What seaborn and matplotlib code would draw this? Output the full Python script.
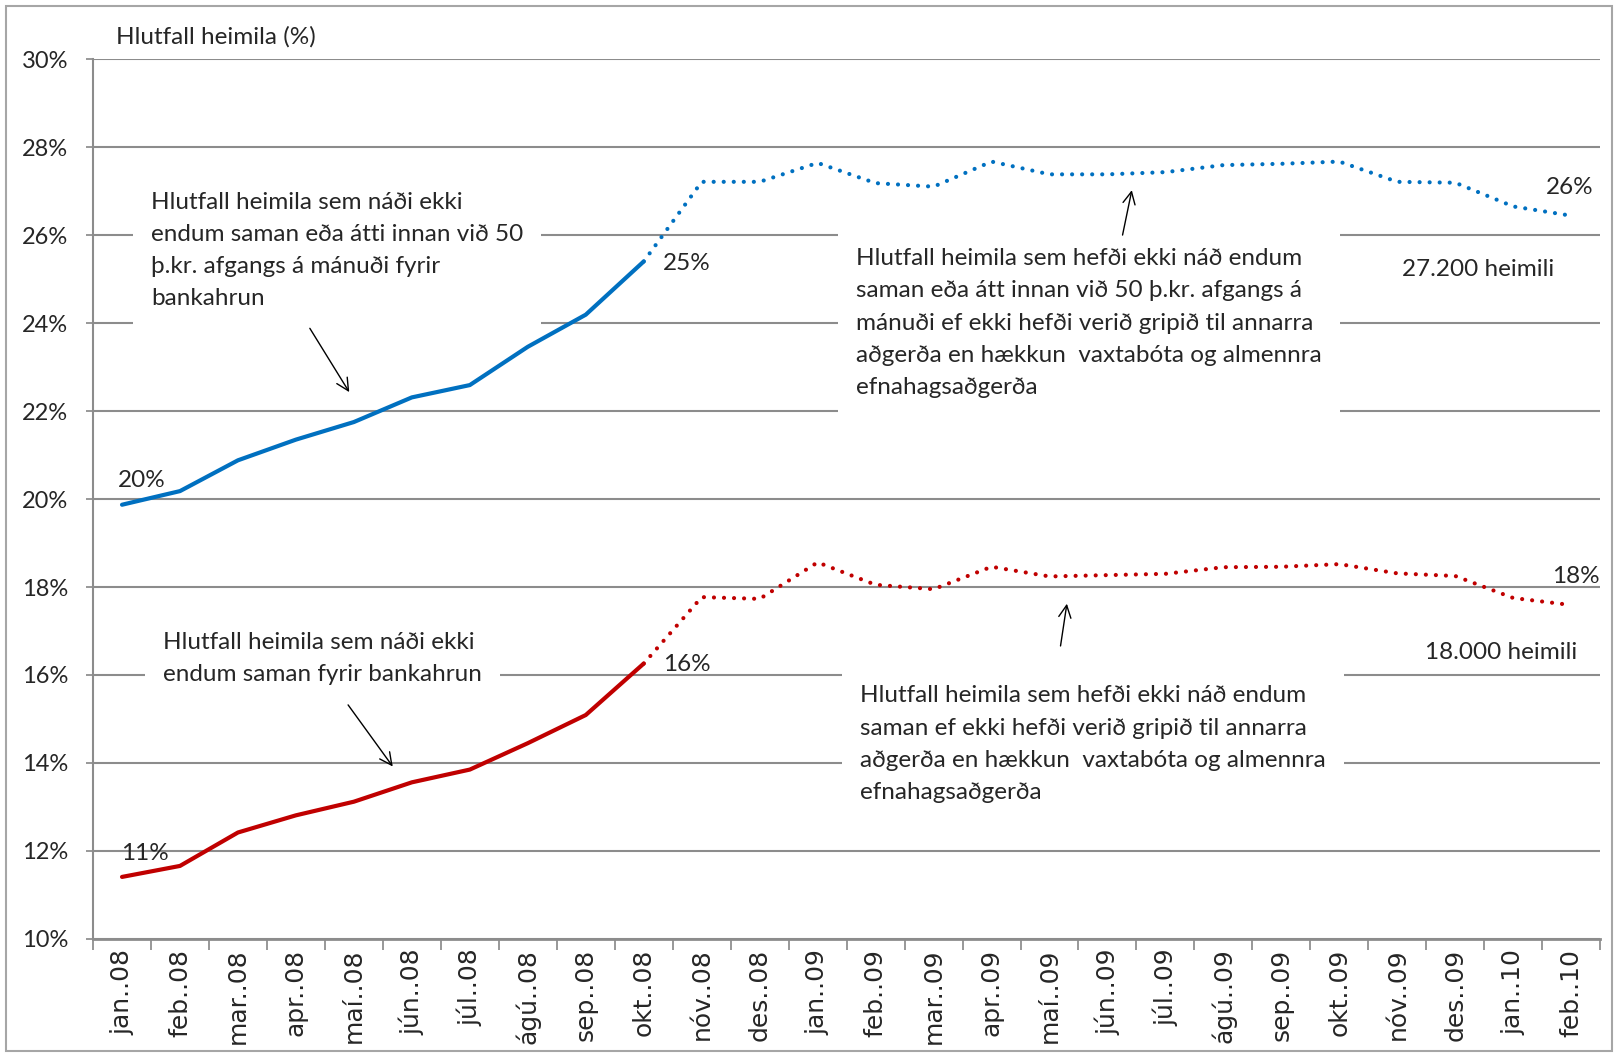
import numpy as np
import pandas as pd
import matplotlib
matplotlib.use('Agg')
import matplotlib.pyplot as plt
from matplotlib.patches import Rectangle
from matplotlib.ticker import FixedLocator, FuncFormatter
import seaborn as sns

# months, Jan 2008 - Feb 2010
months = ['jan..08', 'feb..08', 'mar..08', 'apr..08', 'maí..08', 'jún..08', 'júl..08', 'ágú..08', 'sep..08',
          'okt..08', 'nóv..08', 'des..08', 'jan..09', 'feb..09', 'mar..09', 'apr..09', 'maí..09', 'jún..09',
          'júl..09', 'ágú..09', 'sep..09', 'okt..09', 'nóv..09', 'des..09', 'jan..10', 'feb..10']
# share of households (%) - blue: short or < 50 þ.kr. surplus, red: could not make ends meet
blue = [19.87, 20.18, 20.88, 21.35, 21.75, 22.31, 22.59, 23.46, 24.19, 25.40,
        27.21, 27.21, 27.64, 27.18, 27.10, 27.67, 27.38, 27.38, 27.43, 27.59,
        27.62, 27.67, 27.21, 27.19, 26.65, 26.44]
red = [11.41, 11.66, 12.42, 12.81, 13.12, 13.56, 13.85, 14.45, 15.09, 16.26,
       17.77, 17.73, 18.56, 18.05, 17.95, 18.46, 18.24, 18.27, 18.30, 18.45,
       18.46, 18.52, 18.31, 18.25, 17.75, 17.59]
split = 9  # okt..08 = last actual month, dotted after that
yticks = [10, 12, 14, 16, 18, 20, 22, 24, 26, 28, 30]

sns.set_theme(style='white')
plt.rcParams['font.family'] = ['Lato', 'DejaVu Sans']
FS = 17.5

fig = plt.figure(figsize=(16.18, 10.55), dpi=100)
ax = fig.add_axes([0.0575, 0.110, 0.9315, 0.834])

df = pd.DataFrame({'pos': np.arange(len(months)), 'month': months, 'blue': blue, 'red': red})
solid = df.iloc[:split + 1]
dotted = df.iloc[split:]
for col, color in [('blue', '#0070C0'), ('red', '#C00000')]:
    sns.lineplot(data=solid, x='pos', y=col, color=color, lw=3, ax=ax, zorder=3,
                 solid_joinstyle='round')
    sns.lineplot(data=dotted, x='pos', y=col, color=color, lw=3, ax=ax, zorder=3,
                 linestyle=(0, (0.01, 2.4)), dash_capstyle='round')

ax.set_xlim(-0.5, len(months) - 0.5)
ax.set_ylim(10, 30)
ax.set_xlabel('')
ax.set_ylabel('')
ax.set_yticks(yticks)
ax.yaxis.set_major_formatter(FuncFormatter(lambda v, p: '%d%%' % v))
ax.set_xticks(df.pos)
ax.set_xticklabels(months, rotation=90, fontsize=18, family='DejaVu Sans')
ax.xaxis.set_minor_locator(FixedLocator(np.arange(-0.5, len(months), 1)))
ax.tick_params(axis='x', which='major', length=0, pad=7)
ax.tick_params(axis='x', which='minor', length=8, width=1.2, color='#868686', direction='out', bottom=True)
ax.tick_params(axis='y', length=5, width=1.2, color='#868686', direction='out', left=True, pad=13, labelsize=17)
ax.yaxis.grid(True, color='#8c8c8c', lw=1.5)
ax.set_axisbelow(True)
for s in ['top', 'right']:
    ax.spines[s].set_visible(False)
ax.spines['left'].set_color('#8c8c8c')
ax.spines['left'].set_linewidth(1.5)
ax.spines['bottom'].set_color('#8c8c8c')
ax.spines['bottom'].set_linewidth(2)

fig.text(116 / 1618, 1 - 37 / 1055, 'Hlutfall heimila (%)', fontsize=FS, va='center', ha='left')

# value labels
lab = dict(fontsize=FS, va='center', ha='left')
ax.text(-0.07, 20.41, '20%', **lab)
ax.text(9.33, 25.36, '25%', **lab)
ax.text(24.56, 27.09, '26%', **lab)
ax.text(-0.02, 11.95, '11%', **lab)
ax.text(9.33, 16.24, '16%', **lab)
ax.text(24.67, 18.25, '18%', **lab)
ax.text(23.4, 25.22, '27.200 heimili', fontsize=FS, va='center', ha='center')
ax.text(23.79, 16.5, '18.000 heimili', fontsize=FS, va='center', ha='center')

# annotation boxes
box = dict(fc='white', ec='none', pad=13)
note = dict(fontsize=FS, va='center', ha='left', linespacing=1.65, bbox=box, zorder=2)
ax.text(0.5, 25.64, 'Hlutfall heimila sem náði ekki\nendum saman eða átti innan við 50\n'
        'þ.kr. afgangs á mánuði fyrir\nbankahrun', **note)
ax.text(12.66, 24.0, 'Hlutfall heimila sem hefði ekki náð endum\nsaman eða átt innan við 50 þ.kr. afgangs á\n'
        'mánuði ef ekki hefði verið gripið til annarra\naðgerða en hækkun  vaxtabóta og almennra\n'
        'efnahagsaðgerða', **note)
ax.text(0.71, 16.38, 'Hlutfall heimila sem náði ekki\nendum saman fyrir bankahrun', **note)
ax.text(12.73, 14.43, 'Hlutfall heimila sem hefði ekki náð endum\nsaman ef ekki hefði verið gripið til annarra\n'
        'aðgerða en hækkun  vaxtabóta og almennra\nefnahagsaðgerða', **note)

arrow = dict(arrowstyle='->', color='black', lw=1, mutation_scale=22, shrinkA=0, shrinkB=0)
ax.annotate('', xy=(3.92, 22.43), xytext=(3.24, 23.88), arrowprops=arrow)
ax.annotate('', xy=(17.42, 27.02), xytext=(17.26, 26.0), arrowprops=arrow)
ax.annotate('', xy=(4.67, 13.92), xytext=(3.9, 15.32), arrowprops=arrow)
ax.annotate('', xy=(16.3, 17.62), xytext=(16.19, 16.66), arrowprops=arrow)

# chart border
fig.patches.append(Rectangle((0.004, 0.004), 0.992, 0.99, transform=fig.transFigure,
                             fill=False, ec='#a6a6a6', lw=1.5))

fig.savefig('out.png', dpi=100)
